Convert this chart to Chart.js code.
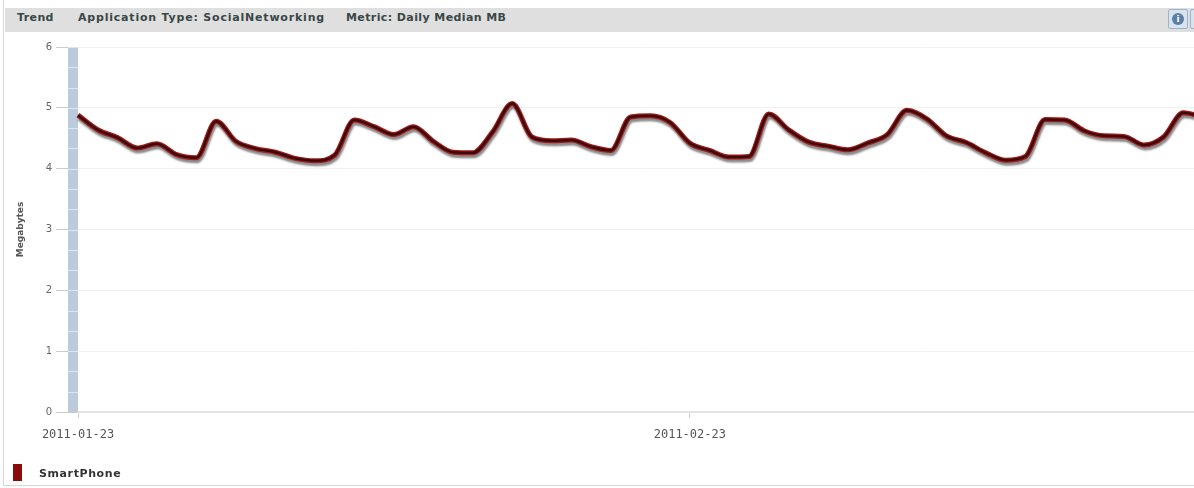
<!DOCTYPE html>
<html>
<head>
<meta charset="utf-8">
<script src="https://cdn.jsdelivr.net/npm/chart.js@4.4.0/dist/chart.umd.min.js"></script>
<style>
  html, body { margin: 0; padding: 0; background: #fff; width: 1194px; height: 488px; overflow: hidden; }
  #panel { position: relative; width: 1194px; height: 488px; overflow: hidden; font-family: "DejaVu Sans", Verdana, sans-serif; }
  #frame { position: absolute; left: 3px; top: 0; width: 1220px; height: 485px; border-left: 1px solid #d6d6d6; border-bottom: 1px solid #d6d6d6; }
  #header { position: absolute; left: 5px; top: 8px; width: 1220px; height: 24px; background: #dfdfdf; }
  .hd { position: absolute; top: 11px; font-size: 11px; line-height: 13px; font-weight: bold; color: #384747; letter-spacing: 0.4px; white-space: nowrap; }
  .icon { position: absolute; top: 9px; width: 18px; height: 18px; border: 1px solid #9fb3c8; border-radius: 2px; background: #d9e3ed; }
  .icon span { position: absolute; left: 3px; top: 3px; width: 12px; height: 12px; border-radius: 6px; background: #5a7fa8; color: #fff; font: bold 9px/12px "DejaVu Sans"; text-align: center; }
  #chartBox { position: absolute; left: 0; top: 0; width: 1210px; height: 488px; }
  #legend { position: absolute; left: 13px; top: 464px; height: 18px; }
  #legend .sw { position: absolute; left: 0; top: 0; width: 9px; height: 17px; }
  #legend .lb { position: absolute; left: 26px; top: 3px; font-size: 11px; line-height: 13px; font-weight: bold; color: #333; letter-spacing: 0.6px; white-space: nowrap; }
</style>
</head>
<body>
<div id="panel">
  <div id="frame"></div>
  <div id="header"></div>
  <div class="hd" style="left:17px">Trend</div>
  <div class="hd" style="left:78px; letter-spacing:0.8px">Application Type: SocialNetworking</div>
  <div class="hd" style="left:346px">Metric: Daily Median MB</div>
  <div class="icon" style="left:1168px"><span>i</span></div>
  <div class="icon" style="left:1190px"><span>i</span></div>
  <div id="chartBox"><canvas id="trendChart"></canvas></div>
  <div id="legend"></div>
</div>
<script>
// daily median megabytes per SmartPhone user, social networking apps
const startDate = "2011-01-23";
const tickDates = ["2011-01-23", "2011-02-23"];
const yTicks = [0, 1, 2, 3, 4, 5, 6];
const seriesName = "SmartPhone";
const seriesColor = "#8b0b0b";
const smartPhone = [
  4.88, 4.64, 4.51, 4.34, 4.41, 4.23, 4.18, 4.78, 4.45, 4.33,
  4.27, 4.17, 4.13, 4.22, 4.80, 4.69, 4.56, 4.69, 4.45, 4.27,
  4.26, 4.60, 5.07, 4.52, 4.46, 4.47, 4.36, 4.30, 4.85, 4.87,
  4.76, 4.42, 4.30, 4.19, 4.20, 4.90, 4.64, 4.44, 4.37, 4.31,
  4.42, 4.56, 4.96, 4.82, 4.54, 4.43, 4.26, 4.14, 4.20, 4.81,
  4.80, 4.62, 4.54, 4.53, 4.39, 4.52, 4.92, 4.85,
];

// one label per day
const dates = [];
for (let i = 0; i < smartPhone.length; i++) {
  const d = new Date(startDate + "T00:00:00Z");
  d.setUTCDate(d.getUTCDate() + i);
  dates.push(d.toISOString().slice(0, 10));
}

// blue range bar along the left side of the plot
const axisBar = {
  id: "axisBar",
  beforeDatasetsDraw(chart) {
    const { ctx, chartArea, scales } = chart;
    const y = scales.y;
    const top = y.getPixelForValue(yTicks[yTicks.length - 1]);
    const bottom = y.getPixelForValue(yTicks[0]);
    ctx.save();
    ctx.fillStyle = "#bccbdc";
    ctx.fillRect(chartArea.left - 10, top, 10, bottom - top);
    ctx.strokeStyle = "#dde6ef";
    ctx.lineWidth = 1;
    for (let v = 1 / 3; v < 6; v += 1 / 3) {
      const py = Math.round(y.getPixelForValue(v)) + 0.5;
      ctx.beginPath();
      ctx.moveTo(chartArea.left - 10, py);
      ctx.lineTo(chartArea.left, py);
      ctx.stroke();
    }
    ctx.restore();
  },
};

// drop shadow under the thick outline
const lineShadow = {
  id: "lineShadow",
  beforeDatasetDraw(chart, args) {
    if (args.index !== 0) return;
    const ctx = chart.ctx;
    ctx.save();
    ctx.shadowColor = "rgba(40,40,40,0.55)";
    ctx.shadowBlur = 2;
    ctx.shadowOffsetX = 1;
    ctx.shadowOffsetY = 3;
  },
  afterDatasetDraw(chart, args) {
    if (args.index === 0) chart.ctx.restore();
  },
};

const ctx = document.getElementById("trendChart");
const trendChart = new Chart(ctx, {
  type: "line",
  data: {
    labels: dates,
    datasets: [
      {
        label: seriesName,
        data: smartPhone,
        borderColor: "#a01a1a",
        borderWidth: 5,
        pointRadius: 0,
        cubicInterpolationMode: "monotone",
        order: 1,
      },
      {
        label: seriesName,
        data: smartPhone,
        borderColor: "#3c0a0a",
        borderWidth: 2.5,
        pointRadius: 0,
        cubicInterpolationMode: "monotone",
        order: 0,
      },
    ],
  },
  options: {
    responsive: true,
    maintainAspectRatio: false,
    animation: false,
    layout: { padding: { top: 47, left: 0, right: 7, bottom: 0 } },
    plugins: {
      legend: { display: false },
      tooltip: { enabled: false },
    },
    scales: {
      x: {
        type: "category",
        offset: false,
        grid: { display: true, drawOnChartArea: false, tickLength: 6, tickColor: "#cfcfcf" },
        border: { color: "#e3e3e3", width: 2 },
        ticks: {
          autoSkip: false,
          maxRotation: 0,
          padding: 10,
          color: "#555",
          font: { family: "DejaVu Sans Mono", size: 12 },
        },
        afterBuildTicks: (s) => {
          s.ticks = s.ticks.filter((t) => tickDates.includes(dates[t.value]));
        },
        afterFit: (s) => {
          s.height = 76;
        },
      },
      y: {
        min: 0,
        max: 6,
        afterBuildTicks: (s) => {
          s.ticks = yTicks.map((v) => ({ value: v }));
        },
        grid: { color: "#f1f1f1", tickColor: "#cbcbcb", tickLength: 22 },
        border: { display: false },
        ticks: { padding: 4, color: "#666", font: { family: "DejaVu Sans", size: 10 } },
        title: {
          display: true,
          text: "Megabytes",
          color: "#555",
          font: { family: "DejaVu Sans", size: 9, weight: "bold" },
          padding: { top: 15, bottom: 0 },
        },
        afterFit: (s) => {
          s.width = 78;
        },
      },
    },
  },
  plugins: [axisBar, lineShadow],
});

// legend below the chart
document.getElementById("legend").innerHTML =
  '<div class="sw" style="background:' + seriesColor + '"></div>' +
  '<div class="lb">' + trendChart.data.datasets[0].label + "</div>";
</script>
</body>
</html>
